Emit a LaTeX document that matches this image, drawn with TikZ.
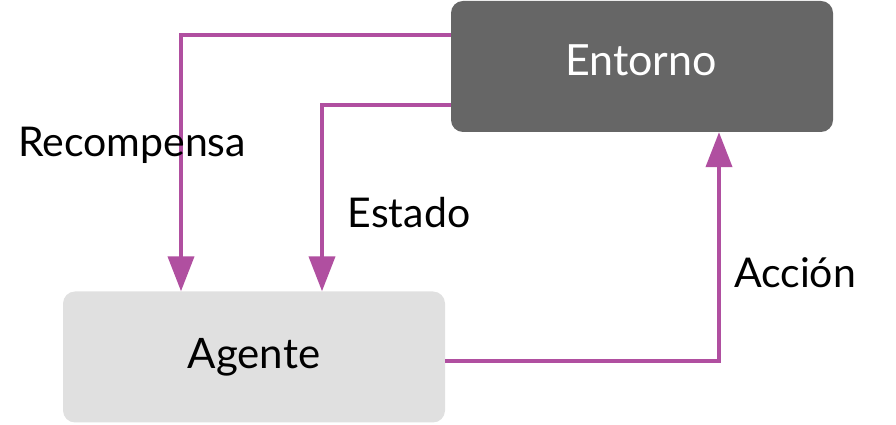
\documentclass[tikz,border=0pt]{standalone}
\usepackage{fontspec}
\setmainfont{Lato}
\usetikzlibrary{arrows.meta}
\definecolor{linec}{HTML}{B04FA0}
\definecolor{envfill}{HTML}{666666}
\definecolor{agfill}{HTML}{E0E0E0}
\begin{document}
\begin{tikzpicture}[x=1pt,y=1pt,
  box/.style={rounded corners=12pt, minimum width=382pt, minimum height=131pt, inner sep=0pt},
  conn/.style={draw=linec, line width=4pt, -{Triangle[length=35pt,width=26pt]}},
  lbl/.style={font=\fontsize{41}{45}\selectfont, anchor=center, inner sep=0pt}]
\useasboundingbox (0,0) rectangle (896,425);
\node[box, fill=envfill] (env) at (642,358.5) {};
\node[text=white, font=\fontsize{43}{47}\selectfont, inner sep=0pt] (envt) at (641,365) {Entorno};
\node[box, fill=agfill, font=\fontsize{42}{46}\selectfont] (ag) at (254,68) {Agente};
\coordinate (r0) at (env.west |- 0,390);
\coordinate (s0) at (env.west |- 0,320);
\coordinate (a0) at (ag.east |- 0,64);
\coordinate (r1) at (181,0 |- ag.north);
\coordinate (s1) at (322,0 |- ag.north);
\coordinate (a1) at (719,0 |- env.south);
\draw[conn] (r0) -| (r1);
\draw[conn] (s0) -| (s1);
\draw[conn] (a0) -| (a1);
\node[lbl] (lr) at (132,280) {Recompensa};
\node[lbl] (ls) at (409,212) {Estado};
\node[lbl] (la) at (795,152) {Acción};
\end{tikzpicture}
\end{document}
